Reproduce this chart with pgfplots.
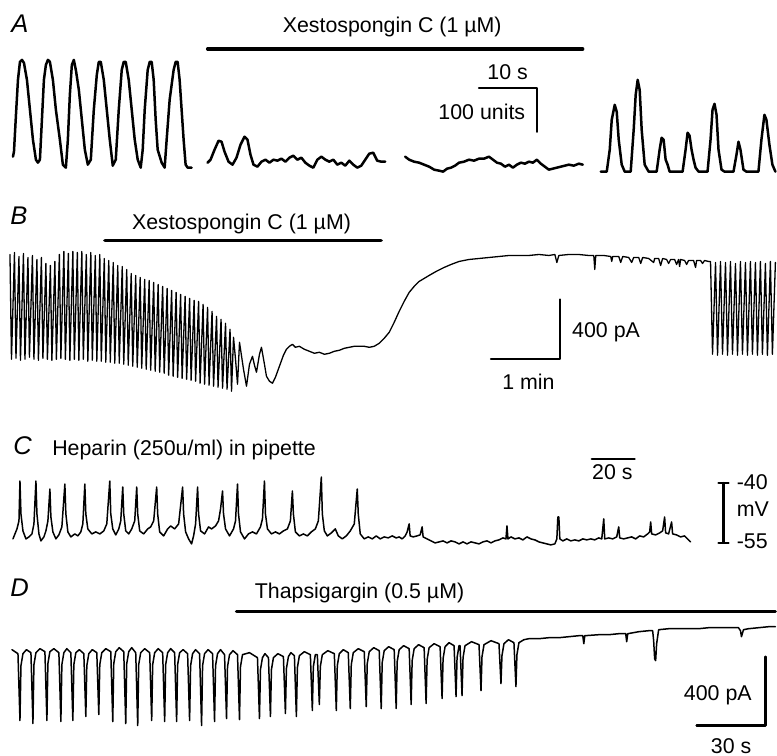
\documentclass[border=0pt]{standalone}
\usepackage{fontspec}
\setmainfont{Liberation Sans}
\usepackage{pgfplots}
\pgfplotsset{compat=1.18}
\begin{document}
\begin{tikzpicture}[lbl/.style={font=\fontsize{10.7}{12}\selectfont, inner sep=0pt, anchor=base west},
  plbl/.style={font=\fontsize{12.8}{14}\selectfont\itshape, inner sep=0pt, anchor=base west}]
\begin{axis}[
  scale only axis, width=388.5pt, height=378.5pt,
  xmin=0, xmax=777, ymin=0, ymax=757, y dir=reverse,
  hide axis, clip=false,
  every axis plot/.append style={black, line join=round, line cap=round},
]
% keeps the page at the full frame
\addplot[draw=none] coordinates {(0,0) (777,757)};

% ---------------- A ----------------
\node[plbl] at (axis cs:11,33) {A};
\node[lbl] at (axis cs:283,33) {Xestospongin C (1 µM)};
\addplot[line width=1.6pt] coordinates {(208,49) (584,49)};
\addplot[line width=1.1pt] coordinates {(480,88) (538,88) (538,132)};
\node[lbl] at (axis cs:488,80) {10 s};
\node[lbl] at (axis cs:439,120) {100 units};

\addplot[line width=1.25pt] coordinates {
(13,157) (14,152) (16,115) (18,80) (20,62) (22,60) (24,63) (27,80) (30,110) (33,140) (36,160) (38,163)
(40,160) (42,120) (44,80) (46,65) (48,60) (50,62) (53,80) (56,110) (60,140) (63,165) (66,168)
(68,140) (70,95) (72,65) (74,60) (76,70) (79,90) (82,120) (85,150) (88,165)
(91,160) (94,110) (97,75) (99,62) (101,62) (104,80) (107,110) (110,140) (113,166)
(116,160) (119,110) (122,70) (124,62) (126,62) (129,80) (132,110) (135,140) (138,160) (141,168)
(143,150) (145,110) (148,70) (150,62) (152,62) (154,80) (156,120) (158,150) (162,163) (165,168)
(167,140) (170,100) (174,70) (176,62) (178,62) (180,80) (182,110) (184,140) (186,165) (188,168) (192,168)};
\addplot[line width=1.25pt] coordinates {
(208,163) (211,160) (215,150) (219,141) (222,142) (225,152) (229,162) (233,165) (237,158) (241,145)
(245,137) (248,140) (251,155) (254,165) (258,167) (262,162) (266,160) (270,163) (274,160) (278,161)
(282,159) (286,162) (290,158) (294,156) (298,160) (302,158) (306,163) (310,166) (314,168) (318,160)
(322,157) (326,160) (330,162) (334,160) (338,165) (342,163) (346,166) (350,161) (354,165) (358,168)
(362,166) (366,160) (370,154) (374,153) (378,161) (382,162) (386,162)};
\addplot[line width=1.25pt] coordinates {
(406,157) (410,160) (415,162) (420,163) (425,165) (430,167) (435,170) (440,171) (444,172) (448,169)
(452,168) (456,166) (460,163) (465,162) (470,160) (475,161) (480,159) (485,159) (490,157) (494,160)
(498,163) (502,164) (506,167) (510,165) (514,168) (518,165) (522,163) (526,164) (530,162) (534,163)
(538,160) (542,164) (546,167) (550,170) (554,169) (558,168) (562,167) (566,166) (570,165) (575,166)
(580,164) (584,165)};
\addplot[line width=1.25pt] coordinates {
(602,172) (608,172) (611,150) (613,120) (616,105) (618,112) (620,140) (623,165) (626,172)
(632,172) (635,130) (637,95) (639,80) (641,90) (643,130) (646,165) (650,172)
(658,172) (661,150) (663,138) (665,140) (667,160) (669,165) (671,172)
(684,172) (687,150) (689,133) (691,136) (693,150) (695,160) (697,168) (700,172)
(709,172) (712,140) (714,110) (716,104) (718,115) (720,150) (723,170) (726,172)
(735,172) (738,155) (740,142) (742,150) (745,170) (748,172)
(760,172) (763,140) (766,115) (768,120) (771,145) (774,165) (777,172)};

% ---------------- B ----------------
\node[plbl] at (axis cs:10,225) {B};
\node[lbl] at (axis cs:132,230) {Xestospongin C (1 µM)};
\addplot[line width=1.6pt] coordinates {(105,241) (382,241)};
\addplot[line width=1.1pt] coordinates {(492,360) (561,360) (561,300)};
\node[lbl] at (axis cs:573,338) {400 pA};
\node[lbl] at (axis cs:503,390) {1 min};

\addplot[line width=0.65pt] coordinates {
(10,255) (11.5,360) (14.5,253) (16,359) (19,257) (20.5,361) (23.5,254) (25,360) (28,258) (29.5,358)
(32.5,256) (34,360) (37,260) (38.5,361) (41.5,258) (43,359) (46,264) (47.5,360) (50.5,266) (52,361)
(55,262) (56.5,360) (59.5,255) (61,359) (64,252) (65.5,360) (68.5,254) (70,361) (73,252) (74.5,360)
(77.5,253) (79,361) (82,252) (83.5,360) (86.5,255) (88,362) (91,253) (92.5,361) (95.5,256) (97,362)
(100,255) (101.5,362) (104.5,259) (106,363) (109,261) (110.5,363) (113.5,263) (115,364) (118,266) (119.5,364)
(122.5,267) (124,365) (127,270) (128.5,366) (131.5,274) (133,367) (136,276) (137.5,368) (140.5,278) (142,369)
(145,280) (146.5,370) (149.5,281) (151,371) (154,283) (155.5,372) (158.5,285) (160,373) (163,287) (164.5,374)
(167.5,289) (169,376) (172,291) (173.5,377) (176.5,293) (178,378) (181,295) (182.5,379) (185.5,297) (187,380)
(190,299) (191.5,381) (194.5,301) (196,382) (199,302) (200.5,384) (203.5,305) (205,385) (208,308) (209.5,386)
(212.5,312) (214,387) (217,317) (218.5,388) (221.5,320) (223,389) (226,324) (227.5,390) (230.5,330) (232,392)
(234,338) (236,360) (238,385) (240,343) (244,370) (247,387) (250,365) (253,357) (255,366) (257,373)
(260,355) (262,348) (265,365) (267,377) (270,382) (273,384) (276,378) (280,367) (284,356) (287,350)
(290,347) (293,345) (296,348) (300,347) (305,350) (310,352) (315,354) (320,353) (325,355) (330,354)
(335,352) (340,351) (345,349) (350,348) (355,347) (360,347) (365,347) (370,348) (375,347) (380,344)
(385,339) (390,333) (395,323) (400,312) (405,302) (410,293) (415,287) (420,282) (425,279) (430,276)
(437,272) (445,268) (452,265) (460,262) (470,260) (480,259) (490,258) (500,257) (510,256) (520,256)
(530,256) (540,255) (550,256) (556,255) (558,263) (560,256) (570,255) (580,255) (590,256) (595,256)
(596,270) (597,256) (605,256) (612,257) (613,262) (614,257) (620,257) (622,263) (624,257) (630,258)
(633,263) (635,258) (640,258) (642,264) (644,258) (650,259) (655,263) (656,259) (660,259) (662,266)
(664,259) (668,260) (670,264) (672,260) (676,260) (678,265) (680,260) (681,267) (682,260) (686,261)
(688,265) (690,261) (695,261) (697,268) (698,261) (702,261) (704,264) (706,261) (710,262)
(712,262) (714,355) (717,263) (719,356) (722,262) (724,355) (727,263) (729,356) (732,262) (734,355)
(737,264) (739,356) (742,262) (744,355) (747,263) (749,356) (752,262) (754,355) (757,263) (759,356)
(762,262) (764,355) (767,264) (769,356) (772,262) (774,355) (777,263)};

% ---------------- C ----------------
\node[plbl] at (axis cs:13,455) {C};
\node[lbl] at (axis cs:52,456) {Heparin (250u/ml) in pipette};
\addplot[line width=1.1pt] coordinates {(593,460) (636,460)};
\node[lbl] at (axis cs:593,480) {20 s};
\addplot[line width=1.1pt] coordinates {(725,484) (725,544)};
\addplot[line width=1.1pt] coordinates {(720,484) (730,484)};
\addplot[line width=1.1pt] coordinates {(720,544) (730,544)};
\node[lbl] at (axis cs:738,490) {-40};
\node[lbl] at (axis cs:738,518) {mV};
\node[lbl] at (axis cs:738,550) {-55};

\addplot[line width=0.75pt] coordinates {
(13,540) (15,535) (17,530) (19,522) (20,482) (21,515) (23,532) (26,540) (29,538) (32,535) (34,525) (36,482)
(37,515) (39,535) (41,542) (44,538) (46,532) (48,522) (50,490) (51,518) (53,533) (56,540) (59,536) (62,528)
(65,485) (66,515) (68,533) (71,538) (75,535) (78,537) (81,533) (83,525) (85,485) (86,515) (88,530) (92,535)
(96,533) (100,535) (104,532) (107,525) (110,482) (111,515) (113,530) (116,536) (119,530) (121,522) (123,488)
(124,515) (126,532) (129,535) (132,530) (135,522) (137,488) (138,515) (140,532) (144,535) (148,530) (151,528)
(154,522) (157,488) (158,515) (160,533) (164,537) (168,530) (171,527) (175,530) (179,525) (183,488) (184,515)
(186,533) (189,540) (192,545) (194,537) (196,525) (198,488) (199,515) (201,532) (205,535) (209,528) (212,530)
(216,527) (219,522) (221,510) (223,492) (224,515) (226,530) (230,537) (234,530) (236,522) (238,485) (239,515)
(241,533) (245,540) (249,535) (253,533) (257,535) (261,528) (263,520) (265,482) (266,515) (268,530) (272,535)
(276,533) (280,535) (284,532) (288,530) (291,522) (293,492) (294,515) (296,533) (300,537) (304,535) (308,537)
(312,533) (316,530) (319,522) (322,478) (323,515) (325,532) (328,537) (332,534) (336,530) (339,537) (343,540)
(347,537) (351,532) (355,525) (358,490) (359,515) (361,535) (365,540) (369,538) (373,540) (377,537) (381,540)
(385,538) (389,539) (393,537) (397,539) (400,538) (403,540) (406,537) (408,533) (410,525) (411,537) (414,538)
(418,537) (421,536) (423,528) (424,538) (428,540) (432,542) (436,544) (440,543) (444,542) (448,544) (452,542)
(456,543) (460,545) (464,543) (468,545) (472,543) (476,544) (480,545) (484,543) (488,542) (492,544) (496,542)
(500,541) (504,539) (507,540) (508,527) (509,540) (512,538) (516,540) (520,539) (524,541) (528,538) (532,540)
(536,541) (540,543) (544,544) (548,545) (552,546) (556,545) (558,540) (559,518) (560,518) (561,540) (564,542)
(568,540) (572,542) (576,541) (580,542) (584,540) (588,541) (592,540) (596,541) (600,539) (603,540) (605,520)
(606,540) (610,539) (614,540) (618,538) (620,528) (621,539) (625,540) (629,539) (633,538) (637,540) (641,537)
(645,538) (649,535) (651,533) (652,523) (653,535) (657,536) (661,534) (664,532) (666,518) (667,534) (670,535)
(673,523) (674,535) (678,536) (682,538) (686,537) (689,540) (692,543)};

% ---------------- D ----------------
\node[plbl] at (axis cs:10,598) {D};
\node[lbl] at (axis cs:255,600) {Thapsigargin (0.5 µM)};
\addplot[line width=1.6pt] coordinates {(237,613) (777,613)};
\addplot[line width=1.1pt] coordinates {(698,727) (767,727) (767,658)};
\node[lbl] at (axis cs:685,702) {400 pA};
\node[lbl] at (axis cs:712,755) {30 s};

\addplot[line width=0.75pt] coordinates {
(12,651) (18,655) (20,722) (21,667) (23,655) (26.5,651)
(31,654) (33,725) (34,666) (36,654) (40,650)
(45,653) (47,722) (48,665) (50,653) (54,650)
(59,654) (61,723) (62,666) (64,654) (67,650)
(71,654) (73,722) (74,666) (76,654) (79.5,651)
(84,655) (86,718) (87,667) (89,655) (92.5,651)
(97,654) (99,716) (100,666) (102,654) (106,650)
(111,653) (113,723) (114,665) (116,653) (119.5,649)
(124,653) (126,725) (127,665) (129,653) (132,649)
(136,654) (138,727) (139,666) (141,654) (145,650)
(150,654) (152,722) (153,666) (155,654) (158.5,650)
(163,654) (165,723) (166,666) (168,654) (171,650)
(175,654) (177,723) (178,666) (180,654) (183.5,651)
(188,655) (190,722) (191,667) (193,655) (196,651)
(200,655) (202,727) (203,667) (205,655) (208.5,651)
(213,655) (215,723) (216,667) (218,655) (221,651)
(225,656) (227,720) (228,668) (230,656) (233.5,652)
(238,656) (240,721) (241,668) (243,656) (250,654)
(258,659) (260,720) (261,671) (263,659) (265.5,655)
(269,659) (271,718) (272,671) (274,659) (278.5,655)
(284,658) (286,715) (287,670) (289,658) (291.5,654)
(295,657) (297,718) (298,669) (300,657) (305,653)
(311,656) (313,712) (314,668) (316,656)
(318,656) (320,706) (321,668) (323,656) (328.5,652)
(335,655) (337,712) (338,667) (340,655) (344,651)
(349,654) (351,710) (352,666) (354,654) (359,650)
(365,653) (367,708) (368,665) (370,653) (374.5,649)
(380,652) (382,710) (383,664) (385,652) (389.5,648)
(395,651) (397,710) (398,663) (400,651) (404.5,647)
(410,650) (412,706) (413,662) (415,650) (419.5,646)
(425,649) (427,705) (428,661) (430,649) (435,645)
(441,648) (443,700) (444,660) (446,648) (450,644)
(455,647) (457,698) (458,659) (460,647)
(461,647) (463,697) (464,659) (466,647) (472.5,643)
(480,646) (482,692) (483,658) (485,646) (492,642)
(500,645) (502,685) (503,657) (505,645) (509.5,641)
(515,644) (517,688) (518,656) (520,644) (525,641)
(530,640) (540,640) (550,639) (560,639) (570,638) (580,637) (584,637) (585,645) (586,637) (600,636)
(610,636) (620,635) (627,635) (628,643) (629,635) (640,633) (650,632) (654,632) (655,642) (656,660)
(657,662) (658,645) (660,631) (670,630) (680,630) (690,630) (700,630) (710,629) (720,629) (730,629)
(740,629) (742,632) (743,638) (745,631) (750,630) (760,629) (770,628) (777,628)};
\end{axis}
\end{tikzpicture}
\end{document}
